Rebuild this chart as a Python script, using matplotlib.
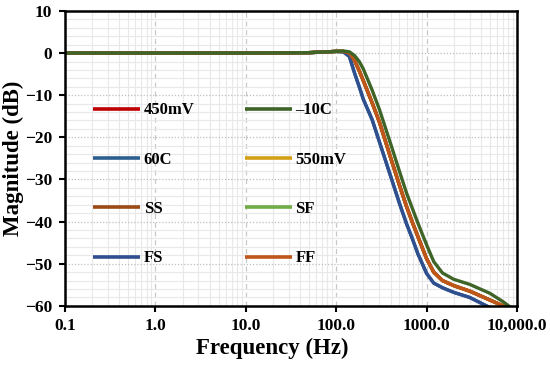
import numpy as np
import matplotlib
matplotlib.use("Agg")
import matplotlib.pyplot as plt
from matplotlib.ticker import FixedLocator, FixedFormatter, MultipleLocator, LogLocator

plt.rcParams['font.family'] = ['Liberation Serif', 'DejaVu Serif']
plt.rcParams['font.weight'] = 'bold'

# frequency grid (Hz) shared by all curves
freq = [0.1, 1, 10, 50, 80, 100, 120, 140, 160, 180, 200, 250, 300, 400, 500,
        600, 700, 800, 1000, 1200, 1500, 2000, 3000, 5000, 7000, 10000]

# magnitude (dB)
mag_fs = [0, 0, 0, 0.1, 0.3, 0.4, 0.3, -0.8, -4.8, -8.0, -11.0, -15.8, -21.0, -29.2, -35.6,
          -40.5, -44.2, -47.6, -52.3, -54.6, -55.7, -56.8, -58.0, -60.4, -62.0, -64.0]
mag_ff = [0, 0, 0, 0.1, 0.3, 0.4, 0.4, 0.0, -1.8, -4.2, -6.6, -11.8, -16.3, -24.8, -31.3,
          -36.4, -40.3, -43.5, -48.8, -52.0, -54.0, -55.2, -56.5, -58.6, -60.0, -62.5]
mag_m10c = [0, 0, 0, 0.1, 0.3, 0.4, 0.5, 0.3, -0.6, -2.0, -3.8, -8.8, -13.3, -21.5, -28.0,
            -33.2, -37.0, -40.3, -45.5, -49.5, -52.2, -53.7, -54.9, -57.0, -59.0, -61.5]
# these curves sit underneath the visible ones
mag_60c = mag_fs
mag_450mv = mag_ff
mag_550mv = mag_ff
mag_ss = mag_ff
mag_sf = mag_ff

x_ticks = [0.1, 1, 10, 100, 1000, 10000]
x_labels = ['0.1', '1.0', '10.0', '100.0', '1000.0', '10,000.0']

series = [
    ('450mV', mag_450mv, '#C00000'),
    ('60C', mag_60c, '#2E5E8E'),
    ('SS', mag_ss, '#9E4A14'),
    ('FS', mag_fs, '#2F4F8F'),
    ('\u201310C', mag_m10c, '#3F6428'),
    ('550mV', mag_550mv, '#D4A017'),
    ('SF', mag_sf, '#70AD47'),
    ('FF', mag_ff, '#C0561A'),
]

fig = plt.figure(figsize=(5.5, 3.65), dpi=100)
ax = fig.add_axes([0.118, 0.162, 0.822, 0.808])

# draw the hidden curves first, visible ones last
draw_order = ['450mV', '60C', '550mV', 'SF', 'SS', 'FS', 'FF', '\u201310C']
handles = {}
for name in draw_order:
    for lab, mag, col in series:
        if lab == name:
            h, = ax.plot(freq, mag, color=col, lw=2.4, label=lab, solid_capstyle='butt')
            handles[lab] = h

ax.set_xscale('log')
ax.set_xlim(0.1, 10000)
ax.set_ylim(-60, 10)
ax.xaxis.set_major_locator(FixedLocator(x_ticks))
ax.xaxis.set_major_formatter(FixedFormatter(x_labels))
ax.xaxis.set_minor_locator(LogLocator(base=10, subs=np.arange(2, 10)))
ax.xaxis.set_minor_formatter(plt.NullFormatter())
ax.yaxis.set_major_locator(MultipleLocator(10))
ax.yaxis.set_minor_locator(MultipleLocator(2))

ax.grid(which='major', axis='x', color='#C8C8C8', ls=(0, (4, 3)), lw=0.9)
ax.grid(which='minor', axis='x', color='#E8E8E8', ls='-', lw=0.8)
ax.grid(which='major', axis='y', color='#BEBEBE', ls=(0, (1, 1.5)), lw=0.9)
ax.grid(which='minor', axis='y', color='#E8E8E8', ls='-', lw=0.8)
ax.set_axisbelow(True)

for s in ax.spines.values():
    s.set_linewidth(1.8)
    s.set_color('black')
ax.tick_params(which='major', direction='out', length=4, width=1.5, labelsize=12.5, pad=5)
ax.tick_params(which='minor', length=0)
for t in ax.get_xticklabels() + ax.get_yticklabels():
    t.set_fontweight('bold')

ax.set_xlabel('Frequency (Hz)', fontsize=16.5, fontweight='bold')
ax.set_ylabel('Magnitude (dB)', fontsize=16.5, fontweight='bold', labelpad=0.5)
ax.xaxis.set_label_coords(0.458, -0.108)

legend_order = ['450mV', '60C', 'SS', 'FS', '\u201310C', '550mV', 'SF', 'FF']
leg = ax.legend([handles[k] for k in legend_order], legend_order, ncol=2,
                loc='upper left', bbox_to_anchor=(0.062, 0.69), frameon=False,
                prop={'family': 'Liberation Serif', 'weight': 'bold', 'size': 12},
                handlelength=2.85, handletextpad=0.2, columnspacing=3.0,
                labelspacing=2.0, borderpad=0, borderaxespad=0)
for line in leg.get_lines():
    line.set_linewidth(2.6)

fig.savefig('out.png', dpi=100)
